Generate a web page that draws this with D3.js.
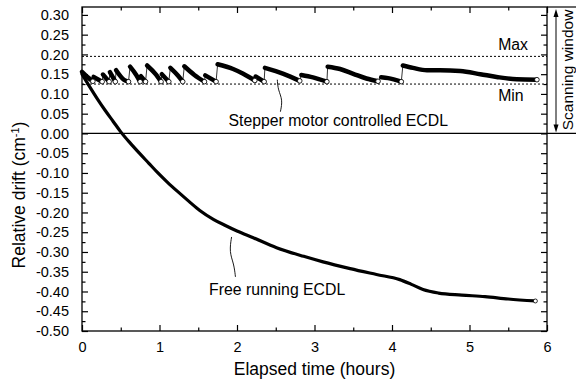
<!DOCTYPE html>
<html><head><meta charset="utf-8">
<script src="https://cdn.jsdelivr.net/npm/d3@7"></script>
<style>
html,body{margin:0;padding:0;background:#fff;}
svg{display:block;}
text{font-family:"Liberation Sans",Arial,Helvetica,sans-serif;fill:#000;}
</style></head>
<body>
<svg id="chart" width="576" height="381"></svg>
<script>
// ---- data ----
const xTicksMajor = [0,1,2,3,4,5,6];
const xTicksMinor = [0.5,1.5,2.5,3.5,4.5,5.5];
const yTicksMajor = [0.30,0.25,0.20,0.15,0.10,0.05,0.00,-0.05,-0.10,-0.15,-0.20,-0.25,-0.30,-0.35,-0.40,-0.45,-0.50];
const yTicksMinor = [0.275,0.225,0.175,0.125,0.075,0.025,-0.025,-0.075,-0.125,-0.175,-0.225,-0.275,-0.325,-0.375,-0.425,-0.475];
const yTickLabels = ["0.30","0.25","0.20","0.15","0.10","0.05","0.00","-0.05","-0.10","-0.15","-0.20","-0.25","-0.30","-0.35","-0.40","-0.45","-0.50"];
const scanMax = 0.195;
const scanMin = 0.125;

// free running ECDL: [hours, drift]
const freeRunning = [[0,0.150],[0.1,0.118],[0.2,0.087],[0.3,0.058],[0.4,0.031],[0.5,0.004],[0.62,-0.024],
 [0.74,-0.050],[0.86,-0.075],[0.97,-0.098],[1.10,-0.123],[1.24,-0.148],[1.38,-0.172],[1.52,-0.195],
 [1.70,-0.218],[1.85,-0.233],[2.0,-0.247],[2.21,-0.264],[2.51,-0.289],[2.86,-0.311],[3.11,-0.325],[3.46,-0.342],[3.80,-0.357],[4.10,-0.370],
 [4.25,-0.382],[4.40,-0.395],[4.6,-0.404],[4.9,-0.409],[5.2,-0.413],[5.5,-0.419],[5.85,-0.424]];

// stepper motor controlled ECDL: one array per tooth
const stepperTeeth = [
 [[0.00,0.156],[0.07,0.143],[0.14,0.132]],
 [[0.15,0.143],[0.26,0.131]],
 [[0.27,0.149],[0.35,0.131]],
 [[0.36,0.155],[0.43,0.131]],
 [[0.44,0.160],[0.54,0.136],[0.60,0.131]],
 [[0.62,0.169],[0.70,0.148],[0.75,0.131]],
 [[0.76,0.145],[0.82,0.131]],
 [[0.84,0.172],[0.95,0.150],[1.02,0.131]],
 [[1.03,0.150],[1.12,0.131]],
 [[1.14,0.166],[1.24,0.146],[1.30,0.131]],
 [[1.32,0.170],[1.45,0.148],[1.58,0.131]],
 [[1.59,0.147],[1.73,0.131]],
 [[1.75,0.175],[1.95,0.163],[2.08,0.151],[2.23,0.134]],
 [[2.24,0.144],[2.35,0.131]],
 [[2.36,0.166],[2.60,0.151],[2.81,0.133]],
 [[2.83,0.148],[2.98,0.142],[3.16,0.131]],
 [[3.17,0.169],[3.33,0.163],[3.50,0.151],[3.67,0.139],[3.82,0.132]],
 [[3.86,0.142],[3.95,0.140],[4.12,0.131]],
 [[4.14,0.172],[4.27,0.166],[4.45,0.160],[4.62,0.160],[4.88,0.158],[5.14,0.150],[5.35,0.143],[5.61,0.137],[5.87,0.136]]
];

// ---- drawing ----
const svg = d3.select("#chart");
const x = d3.scaleLinear().domain([0,6]).range([82,547]);
const y = d3.scaleLinear().domain([-0.5,0.32]).range([331,7]);
const L = x.range()[0], R = x.range()[1], T = y.range()[1], B = y.range()[0];

// extra lines on the right (top border and zero line extended)
svg.append("line").attr("x1",R).attr("x2",576).attr("y1",T).attr("y2",T).attr("stroke","#000").attr("stroke-width",1.2);
svg.append("line").attr("x1",L).attr("x2",576).attr("y1",y(0)).attr("y2",y(0)).attr("stroke","#000").attr("stroke-width",1.2);

// dotted Max/Min lines
[scanMax, scanMin].forEach(v=>{
  svg.append("line").attr("x1",L).attr("x2",R).attr("y1",y(v)).attr("y2",y(v))
    .attr("stroke","#000").attr("stroke-width",1).attr("stroke-dasharray","2,2");
});

// axes with inward ticks
const fmtY = v => yTickLabels[yTicksMajor.indexOf(v)];
const gL = svg.append("g").attr("transform",`translate(${L},0)`)
  .call(d3.axisLeft(y).tickValues(yTicksMajor).tickSizeInner(-6).tickSizeOuter(0).tickPadding(13).tickFormat(fmtY));
const gLm = svg.append("g").attr("transform",`translate(${L},0)`)
  .call(d3.axisLeft(y).tickValues(yTicksMinor).tickSizeInner(-3.5).tickSizeOuter(0).tickFormat(""));
const gR = svg.append("g").attr("transform",`translate(${R},0)`)
  .call(d3.axisRight(y).tickValues(yTicksMajor).tickSizeInner(-6).tickSizeOuter(0).tickFormat(""));
const gRm = svg.append("g").attr("transform",`translate(${R},0)`)
  .call(d3.axisRight(y).tickValues(yTicksMinor).tickSizeInner(-3.5).tickSizeOuter(0).tickFormat(""));
const gB = svg.append("g").attr("transform",`translate(0,${B})`)
  .call(d3.axisBottom(x).tickValues(xTicksMajor).tickSizeInner(-6).tickSizeOuter(0).tickPadding(11).tickFormat(d3.format("d")));
const gBm = svg.append("g").attr("transform",`translate(0,${B})`)
  .call(d3.axisBottom(x).tickValues(xTicksMinor).tickSizeInner(-3.5).tickSizeOuter(0).tickFormat(""));
const gT = svg.append("g").attr("transform",`translate(0,${T})`)
  .call(d3.axisTop(x).tickValues(xTicksMajor).tickSizeInner(-6).tickSizeOuter(0).tickFormat(""));
const gTm = svg.append("g").attr("transform",`translate(0,${T})`)
  .call(d3.axisTop(x).tickValues(xTicksMinor).tickSizeInner(-3.5).tickSizeOuter(0).tickFormat(""));
[gL,gLm,gR,gRm,gB,gBm,gT,gTm].forEach(g=>{
  g.select(".domain").remove();
  g.selectAll(".tick line").attr("stroke","#000").attr("stroke-width",1.2);
  g.selectAll(".tick text").attr("font-size","14.5px").attr("fill","#000")
    .style("font-family",'"Liberation Sans",Arial,sans-serif');
});

// frame
svg.append("rect").attr("x",L).attr("y",T).attr("width",R-L).attr("height",B-T)
  .attr("fill","none").attr("stroke","#000").attr("stroke-width",1.3);

// free running curve
const line = d3.line().x(d=>x(d[0])).y(d=>y(d[1])).curve(d3.curveMonotoneX);
svg.append("path").datum(freeRunning).attr("d",line).attr("fill","none")
  .attr("stroke","#000").attr("stroke-width",3.2).attr("stroke-linejoin","round").attr("stroke-linecap","round");
const lastF = freeRunning[freeRunning.length-1];
svg.append("circle").attr("cx",x(lastF[0])).attr("cy",y(lastF[1])).attr("r",2)
  .attr("fill","#fff").attr("stroke","#000").attr("stroke-width",0.8);

// stepper: thin vertical jumps
for(let i=0;i<stepperTeeth.length-1;i++){
  const a = stepperTeeth[i][stepperTeeth[i].length-1], b = stepperTeeth[i+1][0];
  svg.append("path").attr("d",`M${x(a[0])},${y(a[1])}L${x(b[0])},${y(b[1])}`)
    .attr("stroke","#000").attr("stroke-width",0.8).attr("fill","none");
}
// stepper teeth
stepperTeeth.forEach(t=>{
  svg.append("path").datum(t).attr("d",line).attr("fill","none")
    .attr("stroke","#000").attr("stroke-width",4.5).attr("stroke-linejoin","round").attr("stroke-linecap","round");
});
// open circles at reset points
svg.selectAll("circle.reset").data(stepperTeeth.map(t=>t[t.length-1])).join("circle")
  .attr("class","reset").attr("cx",d=>x(d[0])).attr("cy",d=>y(d[1])).attr("r",2.3)
  .attr("fill","#fff").attr("stroke","#000").attr("stroke-width",0.8);

// annotations
const curve = d3.line().curve(d3.curveBasis);
svg.append("text").attr("x",x(1.89)).attr("y",y(0.019)).attr("font-size","15.8px").text("Stepper motor controlled ECDL");
svg.append("path").attr("d",curve([[x(2.56),y(0.055)],[x(2.59),y(0.085)],[x(2.53),y(0.11)],[x(2.52),y(0.136)]]))
  .attr("fill","none").attr("stroke","#000").attr("stroke-width",0.9);
svg.append("text").attr("x",x(1.64)).attr("y",y(-0.409)).attr("font-size","15.8px").text("Free running ECDL");
svg.append("path").attr("d",curve([[x(1.98),y(-0.363)],[x(1.96),y(-0.33)],[x(1.90),y(-0.30)],[x(1.93),y(-0.262)]]))
  .attr("fill","none").attr("stroke","#000").attr("stroke-width",0.9);
svg.append("text").attr("x",x(5.37)).attr("y",y(0.211)).attr("font-size","15.8px").text("Max");
svg.append("text").attr("x",x(5.37)).attr("y",y(0.082)).attr("font-size","15.8px").text("Min");

// scanning window double arrow
const ax = 556, ay1 = 9, ay2 = y(0)-1;
svg.append("line").attr("x1",ax).attr("x2",ax).attr("y1",ay1+6).attr("y2",ay2-6).attr("stroke","#000").attr("stroke-width",1);
svg.append("path").attr("d",`M${ax},${ay1}L${ax-2.5},${ay1+8}L${ax+2.5},${ay1+8}Z`).attr("fill","#000");
svg.append("path").attr("d",`M${ax},${ay2}L${ax-2.5},${ay2-8}L${ax+2.5},${ay2-8}Z`).attr("fill","#000");
svg.append("text").attr("transform","translate(573,70) rotate(-90)").attr("text-anchor","middle")
  .attr("font-size","15.5px").text("Scanning window");

// axis titles
svg.append("text").attr("x",(L+R)/2).attr("y",375).attr("text-anchor","middle").attr("font-size","17.5px").text("Elapsed time (hours)");
const yt = svg.append("text").attr("transform","translate(25,195) rotate(-90)").attr("text-anchor","middle").attr("font-size","17.5px");
yt.append("tspan").text("Relative drift (cm");
yt.append("tspan").attr("baseline-shift","super").attr("font-size","11px").text("-1");
yt.append("tspan").text(")");
</script>
</body></html>
